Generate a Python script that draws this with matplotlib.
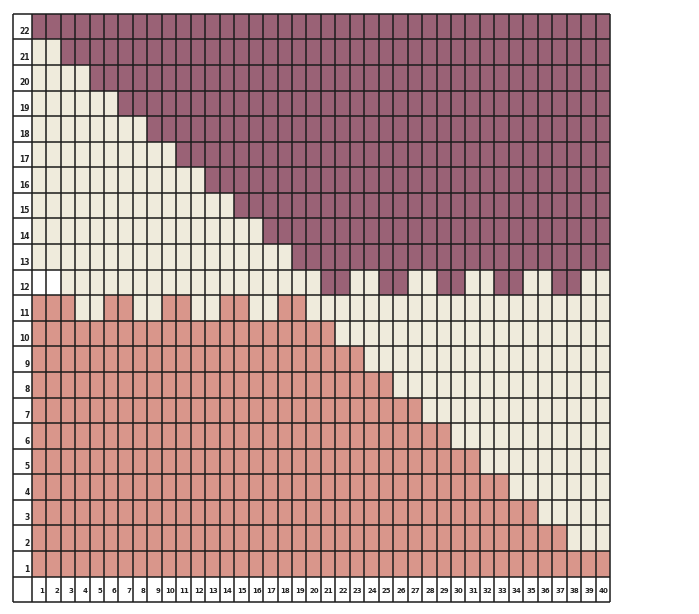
import numpy as np
import matplotlib
matplotlib.use('Agg')
import matplotlib.pyplot as plt
from matplotlib.colors import ListedColormap

# number of pink cells counted up from row 1, for columns 1..40
pink_height = [11, 11, 11, 10, 10, 11, 11, 10, 10, 11,
               11, 10, 10, 11, 11, 10, 10, 11, 11, 10,
               10, 9, 9, 8, 8, 7, 7, 6, 6, 5,
               5, 4, 4, 3, 3, 2, 2, 1, 1, 1]
# number of purple cells counted down from row 22, for columns 1..40
purple_depth = [1, 1, 2, 2, 3, 3, 4, 4, 5, 5,
                6, 6, 7, 7, 8, 8, 9, 9, 10, 10,
                11, 11, 10, 10, 11, 11, 10, 10, 11, 11,
                10, 10, 11, 11, 10, 10, 11, 11, 10, 10]
# blank (white) cells as (column, row)
white_cells = [(1, 12), (2, 12)]

n_cols = 40
n_rows = 22
col_labels = [str(i) for i in range(1, n_cols + 1)]
row_labels = [str(i) for i in range(1, n_rows + 1)]

# 0 white, 1 cream, 2 pink, 3 purple
grid = np.ones((n_rows, n_cols), dtype=int)
for c in range(n_cols):
    grid[:pink_height[c], c] = 2
    grid[n_rows - purple_depth[c]:, c] = 3
for c, r in white_cells:
    grid[r - 1, c - 1] = 0

cmap = ListedColormap(['#ffffff', '#efebdc', '#d9968b', '#9a6276'])

fig = plt.figure(figsize=(6.99, 6.14), dpi=100)
W, H = 699, 614
left, right, top, bottom = 12.3, 610.7, 13.3, 602.7
ax = fig.add_axes([left / W, 1 - bottom / H, (right - left) / W, (bottom - top) / H])

lab_w = 19.4 / 14.96  # label column width in cell units
xe = np.arange(n_cols + 1)
ye = np.arange(1, n_rows + 2)
ax.pcolormesh(xe, ye, grid, cmap=cmap, vmin=-0.5, vmax=3.5)

lc = '#1c1c1c'
lw = 1.1
ax.vlines(np.concatenate(([-lab_w], xe)), 0, n_rows + 1, colors=lc, lw=lw)
ax.hlines(np.arange(n_rows + 2), -lab_w, n_cols, colors=lc, lw=lw)

for i, t in enumerate(col_labels):
    ax.text(i + 0.88, 0.42, t, ha='right', va='center', fontsize=5, fontweight='bold', color='#222222')
for j, t in enumerate(row_labels):
    ax.text(-0.15, j + 1.12, t, ha='right', va='bottom', fontsize=5.5, fontweight='bold', color='#222222')

ax.set_xlim(-lab_w - 0.05, n_cols + 0.05)
ax.set_ylim(-0.02, n_rows + 1.02)
ax.axis('off')

fig.savefig('out.png', dpi=100)
